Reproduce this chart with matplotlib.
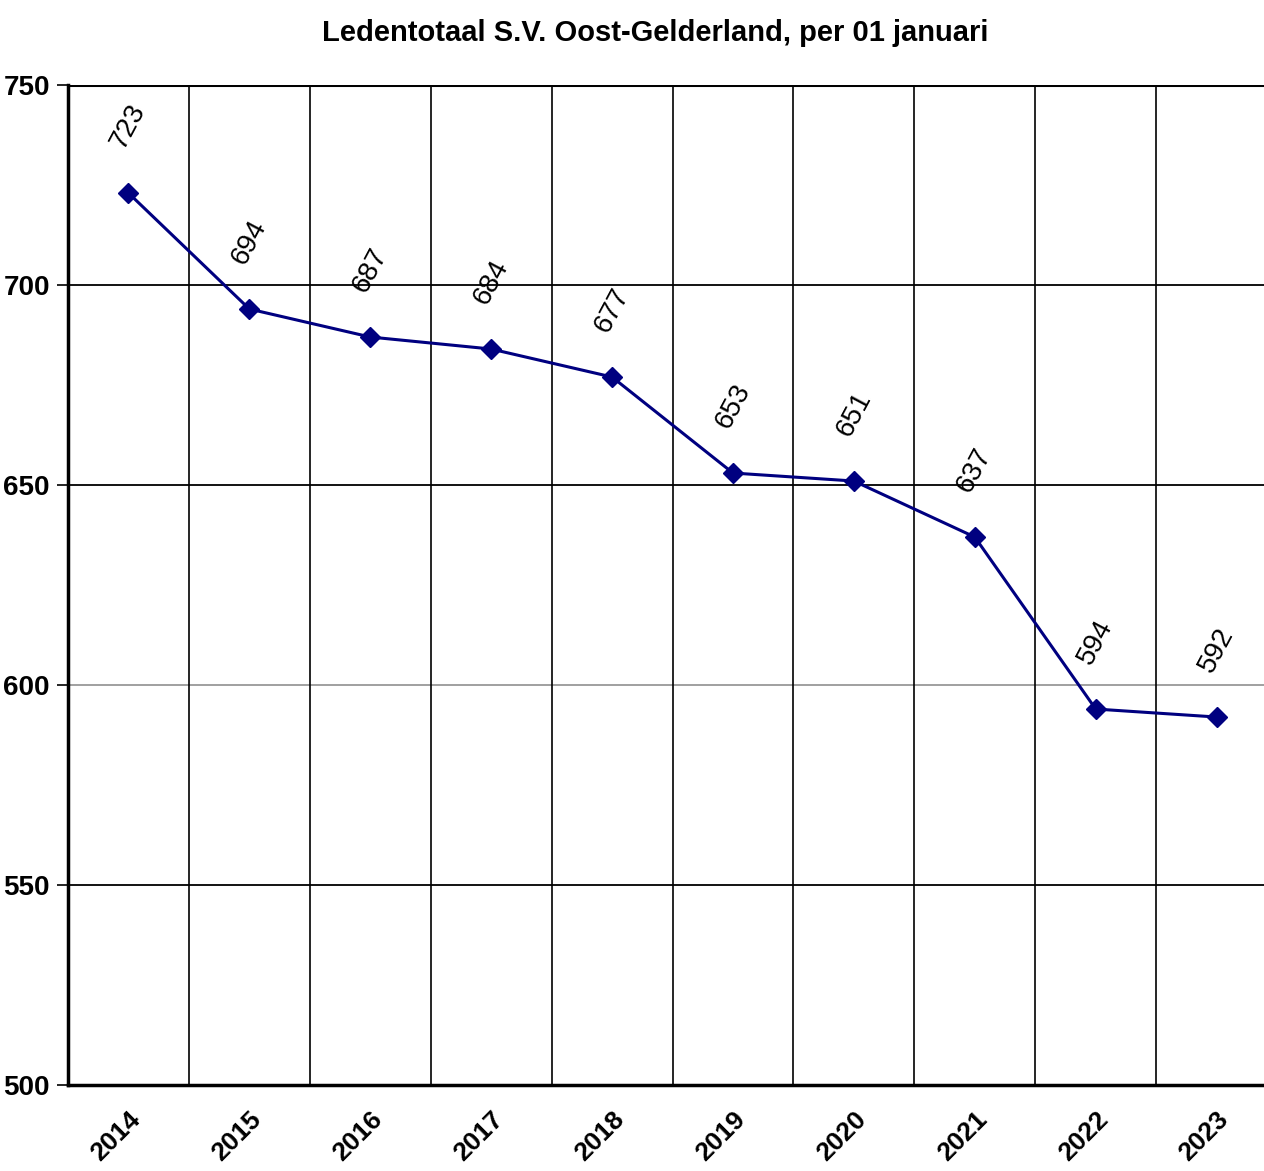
import matplotlib
matplotlib.use("Agg")
import matplotlib.pyplot as plt
import numpy as np

years = ["2014", "2015", "2016", "2017", "2018", "2019", "2020", "2021", "2022", "2023"]
members = [723, 694, 687, 684, 677, 653, 651, 637, 594, 592]
y_ticks = [500, 550, 600, 650, 700, 750]

FONT = ["Liberation Sans Narrow", "Liberation Sans", "DejaVu Sans"]
plt.rcParams["font.family"] = FONT

fig = plt.figure(figsize=(12.64, 11.71), dpi=100)
ax = fig.add_axes([0.0538, 0.0734, 0.9565, 0.854])

x = np.arange(len(years))
ax.set_xlim(-0.5, len(years) - 0.5)
ax.set_ylim(500, 750)

# grid: horizontal at value ticks, vertical at category boundaries
for v in y_ticks[1:]:
    col = "#999999" if v == 600 else "black"
    ax.axhline(v, color=col, lw=1.3, zorder=1)
ax.axhline(750, color="black", lw=2.2, zorder=1)
for b in np.arange(0.5, len(years) - 0.5, 1):
    ax.axvline(b, color="black", lw=1.2, zorder=1)

ax.plot(x, members, color="#000080", lw=2.2, marker="D", markersize=10, zorder=3)

for xi, v in zip(x, members):
    ax.annotate(str(v), (xi, v), xytext=(0, 48), textcoords="offset points",
                rotation=62, ha="center", va="center", fontsize=20, zorder=4)

ax.set_yticks(y_ticks)
ax.set_yticklabels([str(t) for t in y_ticks], fontsize=20, fontweight="bold")
ax.set_xticks(x)
ax.set_xticklabels(years, rotation=45, ha="right", rotation_mode="anchor",
                   fontsize=19, fontweight="bold")
ax.tick_params(axis="x", length=0, pad=16)
ax.tick_params(axis="y", length=8, width=1.2, pad=5)

for s in ["top", "right"]:
    ax.spines[s].set_visible(False)
ax.spines["left"].set_linewidth(2.5)
ax.spines["bottom"].set_linewidth(2.5)

fig.text(0.518, 0.972, "Ledentotaal S.V. Oost-Gelderland, per 01 januari",
         ha="center", va="center", fontsize=21, fontweight="bold")

fig.savefig("out.png", dpi=100)
